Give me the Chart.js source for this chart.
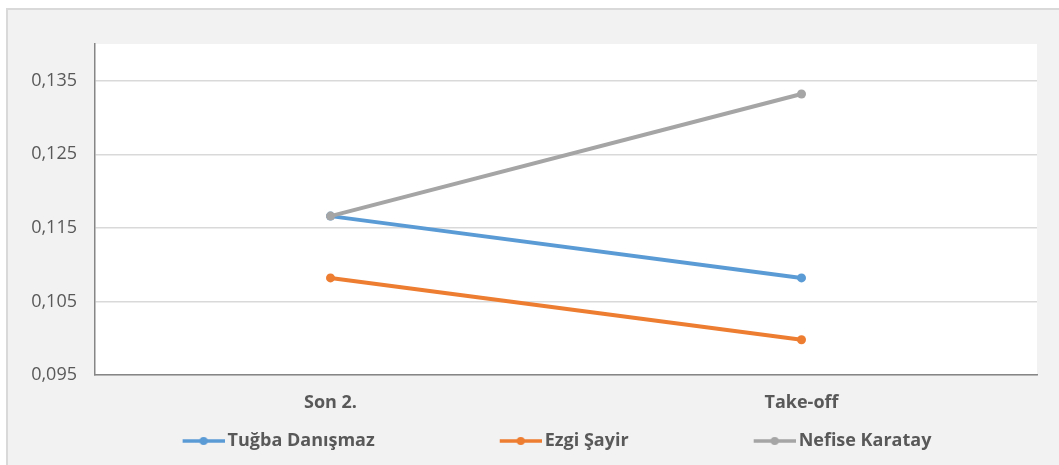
<!DOCTYPE html>
<html>
<head>
<meta charset="utf-8">
<script src="https://cdn.jsdelivr.net/npm/chart.js@4"></script>
<style>
    html, body { margin: 0; padding: 0; background: #ffffff; }
    #panel {
        position: absolute; left: 6px; top: 8px; width: 1053px; height: 457px;
        background: #f2f2f2; border-top: 2px solid #d9d9d9; border-left: 2px solid #d9d9d9;
        box-sizing: border-box;
    }
    #wrap { position: absolute; left: 0; top: 0; width: 1059px; height: 465px; }
</style>
</head>
<body>
<div id="panel"></div>
<div id="wrap"><canvas id="lineChart" width="1059" height="465"></canvas></div>
<script>
const categories = ["Son 2.", "Take-off"];
const seriesNames = ["Tuğba Danışmaz", "Ezgi Şayir", "Nefise Karatay"];
const tugba = [0.1166, 0.1082];
const ezgi = [0.1082, 0.0998];
const nefise = [0.1166, 0.1332];
const yTicks = [0.095, 0.105, 0.115, 0.125, 0.135];
const colors = ["#5b9bd5", "#ed7d31", "#a5a5a5"];

const FONT = "'Open Sans', 'Noto Sans', sans-serif";
const MARK_BOX = 113;
const LEGEND_PAD = 48;

// legend marker: short line with a dot, drawn at the right end of a wide transparent image
function legendMarker(color) {
    const c = document.createElement("canvas");
    c.width = MARK_BOX + 12;
    c.height = 12;
    const g = c.getContext("2d");
    const x1 = c.width - 42, x2 = c.width;
    g.strokeStyle = color;
    g.lineWidth = 3.5;
    g.beginPath();
    g.moveTo(x1, 6);
    g.lineTo(x2, 6);
    g.stroke();
    g.fillStyle = color;
    g.beginPath();
    g.arc((x1 + x2) / 2, 6, 4, 0, Math.PI * 2);
    g.fill();
    return c;
}

const plotBackground = {
    id: "plotBackground",
    beforeDraw(chart) {
        const { ctx, chartArea } = chart;
        ctx.save();
        ctx.fillStyle = "#ffffff";
        ctx.fillRect(chartArea.left, chartArea.top, chartArea.right - chartArea.left, chartArea.bottom - chartArea.top);
        ctx.restore();
    }
};

const allData = [tugba, ezgi, nefise];

new Chart(document.getElementById("lineChart"), {
    type: "line",
    data: {
        labels: categories,
        datasets: allData.map((values, i) => ({
            label: seriesNames[i],
            data: values,
            borderColor: colors[i],
            backgroundColor: colors[i],
            borderWidth: 4,
            pointRadius: 4.5,
            pointHoverRadius: 4.5,
            pointBorderWidth: 0,
            order: 2 - i,
            clip: false
        }))
    },
    options: {
        responsive: false,
        animation: false,
        layout: { padding: { left: 0, right: 22, top: 44, bottom: 5 } },
        scales: {
            x: {
                offset: true,
                grid: { display: false, drawTicks: false },
                border: { display: true, color: "#868686", width: 1.5 },
                // mirrored so the labels are not clipped to the short axis box
                ticks: { color: "#595959", mirror: true, padding: -39, font: { family: FONT, size: 18, weight: "bold" } },
                afterFit(scale) { scale.height = 9; }
            },
            y: {
                min: 0.095,
                max: 0.14,
                afterBuildTicks(scale) { scale.ticks = yTicks.map(v => ({ value: v })); },
                afterFit(scale) { scale.width = 95; },
                grid: { color: "#d9d9d9", lineWidth: 1.5, drawTicks: false },
                border: { display: true, color: "#868686", width: 1.5 },
                ticks: {
                    color: "#595959",
                    padding: 18,
                    font: { family: FONT, size: 18 },
                    callback: v => v.toFixed(3).replace(".", ",")
                }
            }
        },
        plugins: {
            tooltip: { enabled: false },
            legend: {
                position: "bottom",
                labels: {
                    color: "#595959",
                    font: { family: FONT, size: 18, weight: "bold" },
                    usePointStyle: true,
                    pointStyleWidth: MARK_BOX,
                    boxHeight: 12,
                    padding: LEGEND_PAD,
                    generateLabels(chart) {
                        return chart.data.datasets.map((ds, i) => ({
                            text: ds.label,
                            fillStyle: ds.borderColor,
                            strokeStyle: ds.borderColor,
                            fontColor: "#595959",
                            lineWidth: 0,
                            pointStyle: legendMarker(ds.borderColor),
                            datasetIndex: i,
                            hidden: false
                        }));
                    }
                }
            }
        }
    },
    plugins: [plotBackground]
});
</script>
</body>
</html>
